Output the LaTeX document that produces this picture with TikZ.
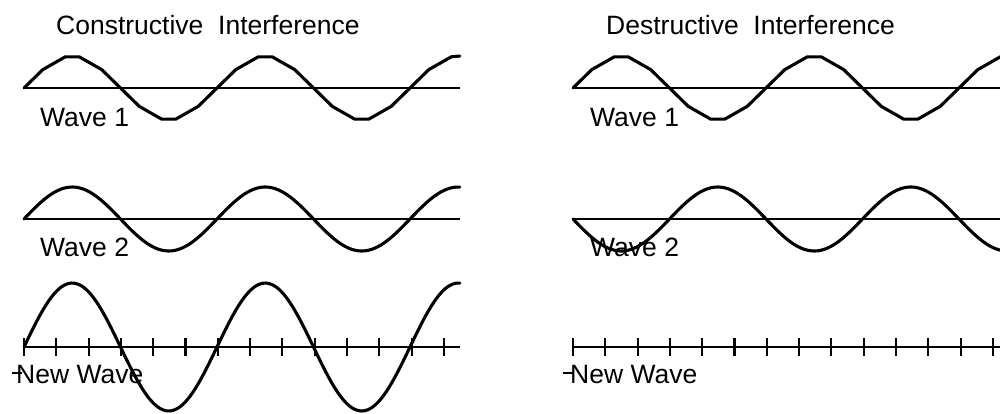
\documentclass[tikz,border=0pt]{standalone}
\usepackage{fontspec}
\setmainfont{Liberation Sans}
\begin{document}
\begin{tikzpicture}[x=1pt,y=-1pt,
  wave/.style={line width=3.1pt, line join=round, line cap=round},
  axisline/.style={line width=2.1pt},
  tickmark/.style={line width=2.1pt},
  lbl/.style={anchor=base west, inner sep=0pt, font=\fontsize{26.5}{30}\selectfont}]
\clip (0,0) rectangle (1000,413);
\fill[white] (0,0) rectangle (1000,413);

% ---------- titles ----------
\node[lbl] (titleA) at (56,34) {Constructive\ \ Interference};
\node[lbl] (titleB) at (606,34) {Destructive\ \ Interference};

% ---------- left panel ----------
% wave 1
\draw[axisline] (24,88) -- (460,88);
\draw[wave] plot[samples at={0,35,77,103,145,180,215,257,283,325,360,395,437,463,505,540,575,617,643,685,720,755,797,813}]
  ({24+\x/360*193},{88-32*sin(\x)});
\node[lbl] (w1a) at (40,126) {Wave 1};
% wave 2
\draw[axisline] (24,219) -- (460,219);
\draw[wave] plot[domain=0:813, samples=90, smooth] ({24+\x/360*193},{219-32*sin(\x)});
\node[lbl] (w2a) at (40,256) {Wave 2};
% new wave
\draw[axisline] (24,347) -- (460,347);
\foreach \k in {0,...,13} \draw[tickmark] ({24+\k*32.3},338) -- ({24+\k*32.3},356);
\draw[wave] plot[domain=0:813, samples=120, smooth] ({24+\x/360*193},{347-64*sin(\x)});
\node[lbl] (nwa) at (16,383) {New Wave};
\draw[line width=1.4pt] (12,373) -- (22,373);

% ---------- right panel ----------
% wave 1
\draw[axisline] (573,88) -- (1002,88);
\draw[wave] plot[samples at={0,35,77,103,145,180,215,257,283,325,360,395,437,463,505,540,575,617,643,685,720,755,797,823,865}]
  ({573+\x/360*193},{88-32*sin(\x)});
\node[lbl] (w1b) at (590,126) {Wave 1};
% wave 2 (inverted)
\draw[axisline] (573,219) -- (1002,219);
\draw[wave] plot[domain=0:840, samples=100, smooth] ({573+\x/360*193},{219+32*sin(\x)});
\node[lbl] (w2b) at (590,256) {Wave 2};
% new wave (flat)
\draw[axisline] (573,347) -- (1002,347);
\foreach \k in {0,...,13} \draw[tickmark] ({573+\k*32.3},338) -- ({573+\k*32.3},356);
\node[lbl] (nwb) at (570,383) {New Wave};
\draw[line width=1.4pt] (563,373) -- (574,373);
\end{tikzpicture}
\end{document}
